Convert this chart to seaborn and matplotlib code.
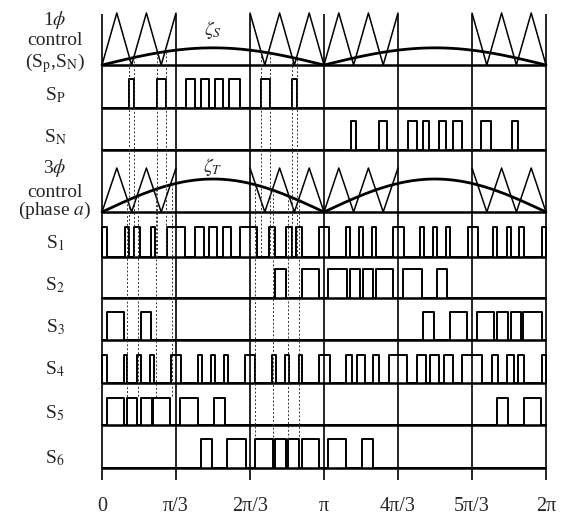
import numpy as np
import pandas as pd
import matplotlib
matplotlib.use("Agg")
import matplotlib.pyplot as plt
import seaborn as sns

# switching pulses as (on, off) in electrical degrees
sp_pulses = [(21.9, 26.2), (44.6, 51.6), (68.1, 75.4), (80.3, 86.8),
             (91.6, 98.1), (103.0, 111.9), (128.9, 135.9), (154.3, 158.3)]
sn_pulses = [(201.6, 206.0), (224.6, 231.3), (248.4, 255.6), (260.0, 265.4),
             (273.5, 278.7), (284.8, 291.6), (307.3, 315.2), (332.7, 337.5)]
s1_pulses = [(0.0, 4.1), (18.6, 21.9), (25.9, 30.8), (39.7, 43.0), (52.7, 67.3),
             (75.4, 82.7), (86.8, 93.2), (98.1, 104.6), (111.9, 125.7),
             (135.4, 140.3), (149.2, 154.1), (157.3, 162.2), (175.9, 184.1),
             (197.8, 201.1), (208.4, 211.6), (218.9, 222.2), (235.9, 244.9),
             (257.8, 261.1), (268.4, 271.6), (278.9, 282.2), (296.8, 304.9),
             (317.1, 320.3), (328.4, 331.6), (338.1, 342.2), (356.8, 360.0)]
s2_pulses = [(140.3, 149.2), (162.2, 175.9), (183.2, 198.6), (201.1, 209.2),
             (211.6, 219.7), (222.2, 235.9), (244.1, 259.5), (271.6, 279.7)]
s3_pulses = [(3.8, 18.1), (31.4, 39.5), (260.5, 269.2), (282.2, 296.2),
             (303.8, 317.8), (320.5, 328.9), (331.4, 339.5), (341.6, 356.5)]
s4_pulses = [(0.0, 3.8), (17.8, 20.5), (28.1, 31.4), (38.9, 42.2), (55.7, 64.1),
             (78.1, 80.8), (88.4, 91.6), (99.2, 102.4), (115.9, 124.1),
             (137.6, 141.1), (148.4, 151.6), (159.7, 162.4), (175.9, 184.9),
             (197.8, 202.7), (206.8, 213.2), (219.7, 224.6), (232.8, 247.4),
             (255.4, 262.7), (265.9, 273.2), (277.3, 284.6), (291.9, 308.1),
             (316.2, 321.1), (328.4, 334.1), (337.3, 342.2), (356.8, 360.0)]
s5_pulses = [(3.8, 18.1), (20.1, 28.7), (31.4, 40.3), (41.4, 55.5),
             (63.2, 78.1), (90.9, 99.6), (320.5, 328.9), (341.9, 356.2)]
s6_pulses = [(80.3, 89.0), (101.7, 116.5), (124.0, 138.3), (140.3, 149.0),
             (151.2, 159.8), (162.0, 176.0), (183.2, 198.1), (210.5, 219.4)]

# dashed projection lines (degrees)
dash_1ph = [21.9, 26.2, 44.6, 51.6, 128.9, 135.9, 154.3, 158.3]
dash_3ph_a = [20.5, 28.8, 43.4, 56.5]
dash_3ph_b = [124.1, 138.4, 151.0, 159.7]

# control waveforms
carrier_per_cycle = 15
m_1ph = 0.33
m_3ph = 0.75
carrier_sections = [(0, 60), (120, 180), (180, 240), (300, 360)]

tick_labels = ["0", "π/3", "2π/3", "π", "4π/3", "5π/3", "2π"]

# layout in pixel rows (y grows downward)
W, H = 562, 515
ROWS = {  # name: (baseline, pulse top)
    "SP": (108, 79), "SN": (150, 121), "S1": (257, 227), "S2": (298, 269),
    "S3": (340, 312), "S4": (383, 355), "S5": (425, 398), "S6": (468, 439),
}
CTRL = {"1ph": (65, 13), "3ph": (212, 168)}
GRID_TOP, GRID_BOT = 14, 480

sns.set_style("white")
plt.rcParams["font.family"] = ["Liberation Serif", "DejaVu Serif"]
plt.rcParams["mathtext.fontset"] = "stix"

fig = plt.figure(figsize=(W / 100, H / 100), dpi=100)
ax = fig.add_axes([102 / W, 1 - GRID_BOT / H, 444 / W, GRID_BOT / H])
ax.set_xlim(0, 2 * np.pi)
ax.set_ylim(GRID_BOT, 0)
rad = np.pi / 180


def pulse_frame(name, pulses, base, top):
    xs, ys = [0.0], [base]
    for a, b in pulses:
        xs += [a, a, b, b]
        ys += [base, top, top, base]
    xs.append(360.0)
    ys.append(base)
    return pd.DataFrame({"x": np.array(xs) * rad, "y": ys, "sig": name})


signals = {"SP": sp_pulses, "SN": sn_pulses, "S1": s1_pulses, "S2": s2_pulses,
           "S3": s3_pulses, "S4": s4_pulses, "S5": s5_pulses, "S6": s6_pulses}
wave = pd.concat([pulse_frame(k, v, *ROWS[k]) for k, v in signals.items()])
sns.lineplot(data=wave, x="x", y="y", units="sig", estimator=None, sort=False,
             color="black", lw=1.4, ax=ax)


def carrier(theta_deg):
    th = np.mod(theta_deg, 180.0)
    th = np.where(th > 90, 180 - th, th)
    frac = np.mod(th / (360.0 / carrier_per_cycle), 1.0)
    return 1 - np.abs(2 * frac - 1)


for key, m in (("1ph", m_1ph), ("3ph", m_3ph)):
    base, top = CTRL[key]
    h = base - top
    for s0, s1 in carrier_sections:
        th = np.linspace(s0, s1, 601)
        sns.lineplot(x=th * rad, y=base - h * carrier(th), color="black",
                     lw=1.1, sort=False, ax=ax)
    th = np.linspace(0, 360, 721)
    sns.lineplot(x=th * rad, y=base - h * m * np.abs(np.sin(th * rad)),
                 color="black", lw=2.0, sort=False, ax=ax)

# baselines
for base, _ in list(ROWS.values()) + list(CTRL.values()):
    ax.hlines(base, 0, 2 * np.pi, color="black", lw=1.8)

# sector lines
ax.vlines(np.arange(7) * np.pi / 3, GRID_TOP, GRID_BOT, color="black", lw=1.2)

# dashed projections
b1, t1 = CTRL["1ph"]
for d in dash_1ph:
    y0 = b1 - (b1 - t1) * m_1ph * abs(np.sin(d * rad))
    ax.vlines(d * rad, y0, ROWS["S1"][0], color="0.2", lw=0.7,
              linestyles=(0, (2, 2)))
b3, t3 = CTRL["3ph"]
for group, yend in ((dash_3ph_a, ROWS["S5"][1]), (dash_3ph_b, ROWS["S6"][1])):
    for d in group:
        y0 = b3 - (b3 - t3) * m_3ph * abs(np.sin(d * rad))
        ax.vlines(d * rad, y0, yend, color="0.2", lw=0.7,
                  linestyles=(0, (2, 2)))

for art in ax.get_children():
    try:
        art.set_clip_on(False)
    except AttributeError:
        pass

ax.text(np.pi / 2, 30, r"$\zeta_S$", ha="center", va="center", fontsize=14)
ax.text(np.pi / 2, 167, r"$\zeta_T$", ha="center", va="center", fontsize=14)

ax.set_xticks(np.arange(7) * np.pi / 3)
ax.set_xticklabels(tick_labels, fontsize=14.5)
ax.tick_params(axis="x", length=0, pad=12)
ax.set_yticks([])
ax.set_xlabel("")
ax.set_ylabel("")
for sp in ax.spines.values():
    sp.set_visible(False)

left_labels = [
    ("1$\\phi$", 25), ("control", 45), ("(S$_\\mathrm{p}$,S$_\\mathrm{N}$)", 67),
    ("S$_\\mathrm{P}$", 100), ("S$_\\mathrm{N}$", 142),
    ("3$\\phi$", 173), ("control", 197), ("(phase $a$)", 215),
    ("S$_1$", 248), ("S$_2$", 290), ("S$_3$", 332), ("S$_4$", 374),
    ("S$_5$", 418), ("S$_6$", 463),
]
for txt, yb in left_labels:
    fig.text(55 / W, 1 - yb / H, txt, ha="center", va="baseline", fontsize=14)

fig.savefig("out.png", dpi=100)
